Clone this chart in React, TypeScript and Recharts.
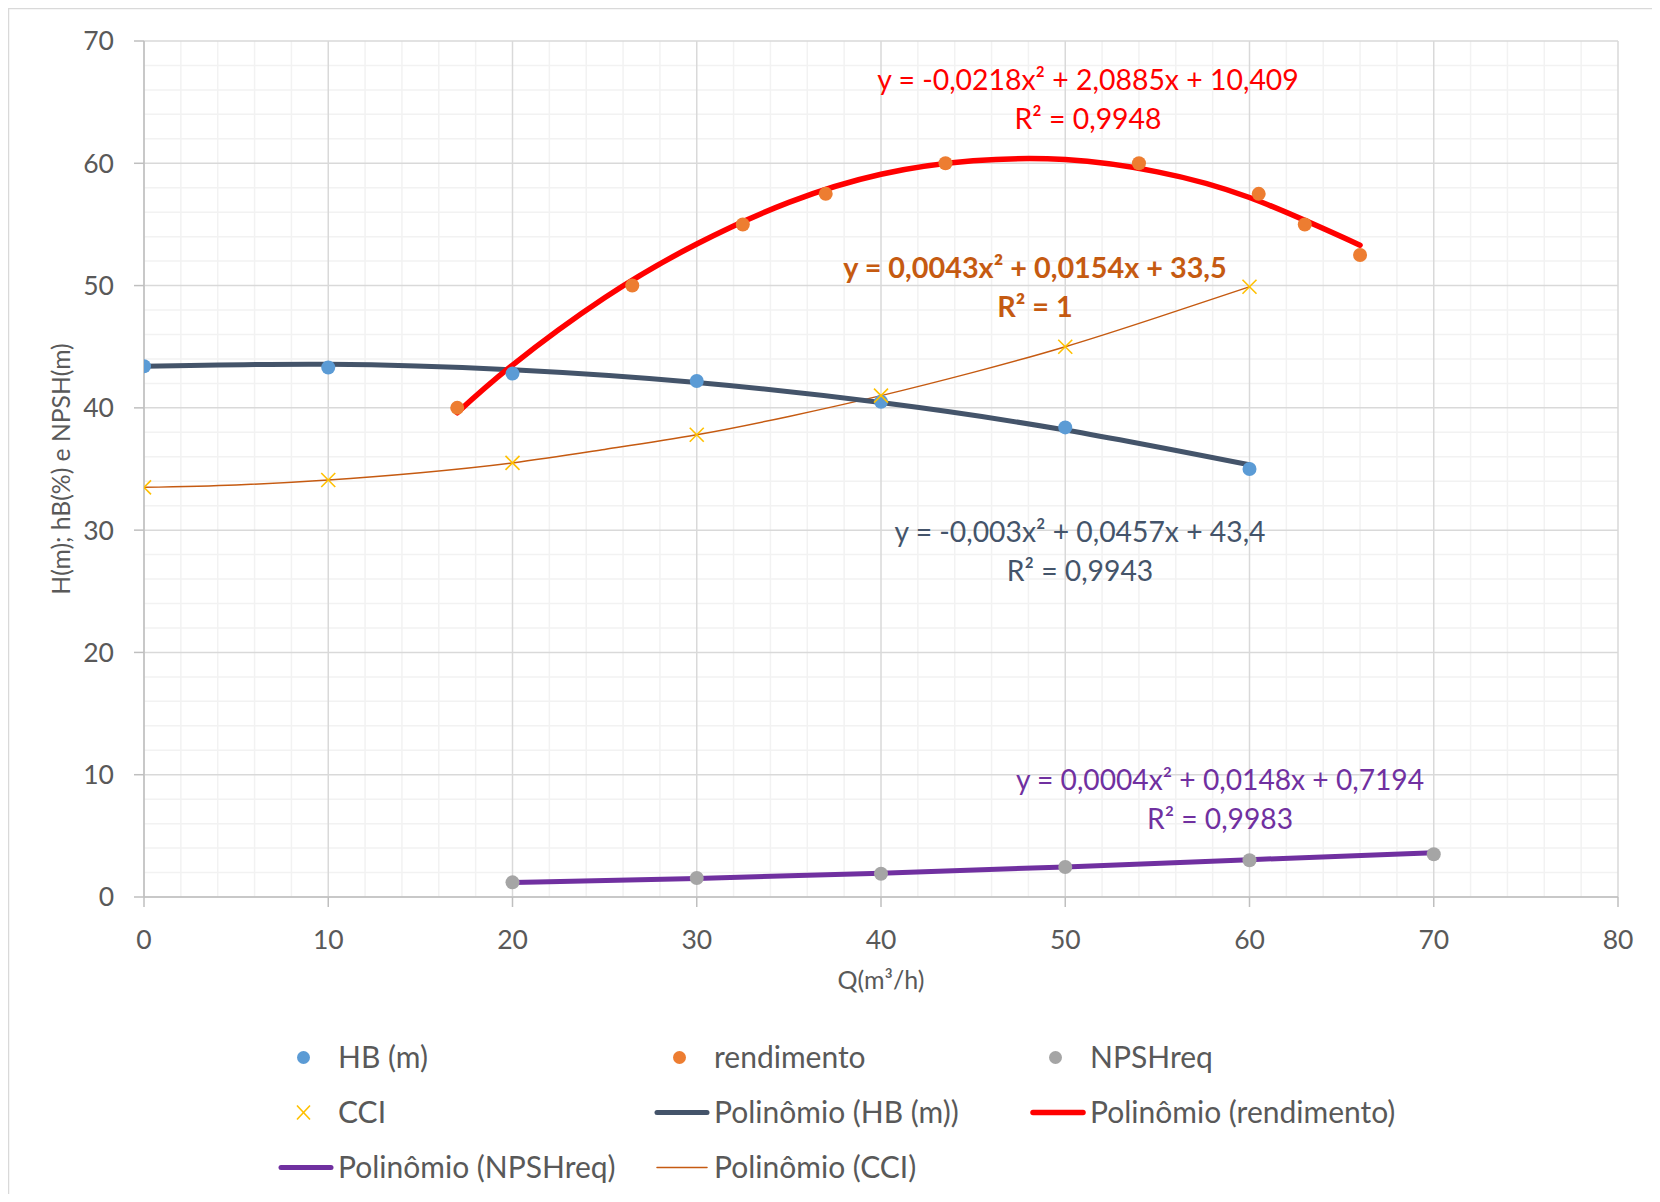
import React from 'react';
import { ComposedChart, XAxis, YAxis, CartesianGrid, Line, Scatter } from 'recharts';

const FONT = 'Lato, "Open Sans", sans-serif';

// ---- data ----
const qHB = [0, 10, 20, 30, 40, 50, 60];
const hbValues = [43.4, 43.3, 42.8, 42.2, 40.5, 38.4, 35.0];

const qRend = [17, 26.5, 32.5, 37, 43.5, 54, 60.5, 63, 66];
const rendValues = [40, 50, 55, 57.5, 60, 60, 57.5, 55, 52.5];

const qNpsh = [20, 30, 40, 50, 60, 70];
const npshValues = [1.2, 1.55, 1.9, 2.45, 3.0, 3.5];

const qCci = [0, 10, 20, 30, 40, 50, 60];
const cciValues = [33.5, 34.1, 35.5, 37.8, 41.0, 45.0, 49.9];

// trendline curves
const trendHBQ = [0, 10, 20, 30, 40, 50, 60];
const trendHBValues = [43.4, 43.56, 43.11, 42.07, 40.43, 38.19, 35.34];

const trendRendQ = [17, 20, 25, 30, 35, 40, 45, 50, 55, 60, 66];
const trendRendValues = [39.6, 43.5, 49.0, 53.4, 56.8, 59.1, 60.2, 60.3, 59.3, 57.2, 53.3];

const trendNpshQ = [20, 30, 40, 50, 60, 70];
const trendNpshValues = [1.18, 1.52, 1.95, 2.46, 3.05, 3.62];

const trendCciQ = [0, 5, 10, 15, 20, 25, 30, 35, 40, 45, 50, 55, 60];
const trendCciValues = [33.5, 33.7, 34.1, 34.7, 35.5, 36.6, 37.8, 39.3, 41.0, 42.9, 45.0, 47.4, 49.9];

const xTicks = [0, 10, 20, 30, 40, 50, 60, 70, 80];
const yTicks = [0, 10, 20, 30, 40, 50, 60, 70];
const xMinor = [2, 4, 6, 8, 12, 14, 16, 18, 22, 24, 26, 28, 32, 34, 36, 38, 42, 44, 46, 48, 52, 54, 56, 58, 62, 64, 66, 68, 72, 74, 76, 78];
const yMinor = [2, 4, 6, 8, 12, 14, 16, 18, 22, 24, 26, 28, 32, 34, 36, 38, 42, 44, 46, 48, 52, 54, 56, 58, 62, 64, 66, 68];

const xTitle = 'Q(m³/h)';
const yTitle = 'H(m); hB(%) e NPSH(m)';

const equations = [
  { lines: ['y = -0,0218x² + 2,0885x + 10,409', 'R² = 0,9948'], color: '#FF0000', bold: false, cx: 1080, y: 82, size: 28.4 },
  { lines: ['y = 0,0043x² + 0,0154x + 33,5', 'R² = 1'], color: '#C55A11', bold: true, cx: 1027, y: 270, size: 28.8 },
  { lines: ['y = -0,003x² + 0,0457x + 43,4', 'R² = 0,9943'], color: '#44546A', bold: false, cx: 1072, y: 534, size: 28.3 },
  { lines: ['y = 0,0004x² + 0,0148x + 0,7194', 'R² = 0,9983'], color: '#7030A0', bold: false, cx: 1212, y: 782, size: 28.2 },
];

const legendItems = [
  { name: 'HB (m)', kind: 'dot', color: '#5B9BD5', w: 0 },
  { name: 'rendimento', kind: 'dot', color: '#ED7D31', w: 0 },
  { name: 'NPSHreq', kind: 'dot', color: '#A5A5A5', w: 0 },
  { name: 'CCI', kind: 'cross', color: '#FFC000', w: 0 },
  { name: 'Polinômio (HB (m))', kind: 'line', color: '#44546A', w: 5 },
  { name: 'Polinômio (rendimento)', kind: 'line', color: '#FF0000', w: 5.5 },
  { name: 'Polinômio (NPSHreq)', kind: 'line', color: '#7030A0', w: 5 },
  { name: 'Polinômio (CCI)', kind: 'line', color: '#C55A11', w: 1.5 },
];

const pts = (xs: number[], ys: number[]) => xs.map((x, i) => ({ x, y: ys[i] }));

const W = 1644;
const H = 1186;

const dotShape = (color: string) => (props: any) => {
  const { cx, cy } = props;
  if (cx == null || cy == null) return <g />;
  return <circle cx={cx} cy={cy} r={7} fill={color} />;
};

const crossShape = (props: any) => {
  const { cx, cy } = props;
  if (cx == null || cy == null) return <g />;
  const s = 7;
  return (
    <g stroke="#FFC000" strokeWidth={1.6}>
      <line x1={cx - s} y1={cy - s} x2={cx + s} y2={cy + s} />
      <line x1={cx - s} y1={cy + s} x2={cx + s} y2={cy - s} />
    </g>
  );
};

export default function App() {
  return (
    <div style={{ position: 'relative', width: W, height: H, background: '#fff' }}>
      <ComposedChart width={W} height={H} margin={{ top: 33, right: 34, left: 36, bottom: 237 }}>
        <CartesianGrid stroke="#F2F2F2" strokeWidth={1.5} horizontalValues={yMinor} verticalValues={xMinor} />
        <CartesianGrid stroke="#D9D9D9" strokeWidth={1.5} />
        <XAxis
          type="number"
          dataKey="x"
          domain={[0, 80]}
          ticks={xTicks}
          interval={0}
          allowDataOverflow
          height={60}
          tickSize={10}
          tickMargin={23}
          stroke="#BFBFBF"
          strokeWidth={1.5}
          tick={{ fill: '#595959', fontSize: 26.5, fontFamily: FONT }}
        />
        <YAxis
          type="number"
          domain={[0, 70]}
          ticks={yTicks}
          interval={0}
          allowDataOverflow
          width={100}
          tickSize={10}
          tickMargin={20}
          stroke="#BFBFBF"
          strokeWidth={1.5}
          tick={{ fill: '#595959', fontSize: 26.5, fontFamily: FONT }}
        />
        <Scatter name="HB (m)" data={pts(qHB, hbValues)} dataKey="y" shape={dotShape('#5B9BD5')} isAnimationActive={false} />
        <Scatter name="rendimento" data={pts(qRend, rendValues)} dataKey="y" shape={dotShape('#ED7D31')} isAnimationActive={false} />
        <Scatter name="NPSHreq" data={pts(qNpsh, npshValues)} dataKey="y" shape={dotShape('#A5A5A5')} isAnimationActive={false} />
        <Scatter name="CCI" data={pts(qCci, cciValues)} dataKey="y" shape={crossShape} isAnimationActive={false} />
        <Line name="Polinômio (CCI)" data={pts(trendCciQ, trendCciValues)} dataKey="y" type="natural" stroke="#C55A11" strokeWidth={1.5} dot={false} activeDot={false} isAnimationActive={false} />
        <Line name="Polinômio (HB (m))" data={pts(trendHBQ, trendHBValues)} dataKey="y" type="natural" stroke="#44546A" strokeWidth={5} strokeLinecap="round" dot={false} activeDot={false} isAnimationActive={false} />
        <Line name="Polinômio (rendimento)" data={pts(trendRendQ, trendRendValues)} dataKey="y" type="natural" stroke="#FF0000" strokeWidth={5.5} strokeLinecap="round" dot={false} activeDot={false} isAnimationActive={false} />
        <Line name="Polinômio (NPSHreq)" data={pts(trendNpshQ, trendNpshValues)} dataKey="y" type="natural" stroke="#7030A0" strokeWidth={5} strokeLinecap="round" dot={false} activeDot={false} isAnimationActive={false} />
      </ComposedChart>
      <svg
        width={W}
        height={H}
        style={{ position: 'absolute', left: 0, top: 0, pointerEvents: 'none' }}
        fontFamily={FONT}
      >
        <line x1={0.5} y1={0} x2={0.5} y2={H} stroke="#D9D9D9" strokeWidth={1.5} />
        <line x1={0} y1={0.5} x2={W} y2={0.5} stroke="#D9D9D9" strokeWidth={1.5} />
        <text x={52} y={461} transform="rotate(-90 52 461)" textAnchor="middle" dominantBaseline="central" fontSize={24.7} fill="#595959">
          {yTitle}
        </text>
        <text x={873} y={981} textAnchor="middle" fontSize={25} fill="#595959">
          {xTitle}
        </text>
        {equations.map((eq, i) => (
          <g key={i} fill={eq.color} fontSize={eq.size} fontWeight={eq.bold ? 700 : 400} textAnchor="middle">
            {eq.lines.map((ln, j) => (
              <text key={j} x={eq.cx} y={eq.y + j * 38.5}>
                {ln}
              </text>
            ))}
          </g>
        ))}
        {legendItems.map((it, i) => {
          const col = i % 3;
          const row = Math.floor(i / 3);
          const tx = 330 + col * 376;
          const cy = 1049.5 + row * 55;
          let marker: React.ReactNode = null;
          if (it.kind === 'dot') marker = <circle cx={tx - 34.5} cy={cy} r={6.5} fill={it.color} />;
          else if (it.kind === 'cross')
            marker = (
              <g stroke={it.color} strokeWidth={1.6}>
                <line x1={tx - 41} y1={cy - 7} x2={tx - 28} y2={cy + 7} />
                <line x1={tx - 41} y1={cy + 7} x2={tx - 28} y2={cy - 7} />
              </g>
            );
          else
            marker = <line x1={tx - 57} y1={cy} x2={tx - 7} y2={cy} stroke={it.color} strokeWidth={it.w} strokeLinecap="round" />;
          return (
            <g key={i}>
              {marker}
              <text x={tx} y={cy + 10} fontSize={30} fill="#595959">
                {it.name}
              </text>
            </g>
          );
        })}
      </svg>
    </div>
  );
}
